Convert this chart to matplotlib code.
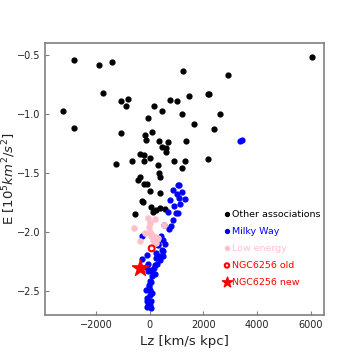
import numpy as np
from matplotlib import pyplot as plt

# Lz [km/s kpc], E [1e5 km^2/s^2]
other_lz = [-2815, -3240, -2815, -1895, -1395, -1733, -1085, -823, -885, -1085,
            -1272, -62, 162, 461, 748, 1035, 1247, 1459, 1222, 1646,
            2169, 2200, 2905, 2606, 2382, 2169, 6047, -162, -137, 100,
            337, 698, 1346, 474, 598, 611, -374, -212, 12, -673,
            -212, 898, 1321, 312, 1222, 337, 374, -374, -436, -200,
            -87, 25, 386, -274, -260, 62, 374, 224, 586, -536, 125]
other_e = [-0.542, -0.973, -1.119, -0.587, -0.562, -0.818, -0.891, -0.874, -0.931, -1.159,
           -1.426, -1.032, -0.928, -0.973, -0.877, -0.889, -0.632, -0.846, -1.001, -1.083,
           -0.832, -0.830, -0.669, -0.996, -1.125, -1.376, -0.520, -1.173, -1.221, -1.150,
           -1.229, -1.232, -1.224, -1.280, -1.283, -1.317, -1.334, -1.345, -1.373, -1.398,
           -1.393, -1.398, -1.393, -1.432, -1.454, -1.497, -1.530, -1.533, -1.556, -1.595,
           -1.590, -1.649, -1.668, -1.733, -1.745, -1.790, -1.798, -1.809, -1.803, -1.846, -1.832]

mw_lz = [3354, 3441, 1072, 1110, 886, 1010, 1222, 1110, 1321, 760,
         898, 1147, 686, 985, 1072, 873, 548, 735, 780, -274, 436,
         499, 324, 449, 224, 374, 499, -112, -274, 249, 399,
         -75, 199, 274, 0, 150, 87, 187, 12, -37, 0,
         -137, 12, -112, 0, -87, 312, 560, 510, -150, 100,
         -60, 60, -20, 100, -100, 40, -50, 50]
mw_e = [-1.229, -1.215, -1.598, -1.600, -1.640, -1.674, -1.663, -1.711, -1.722, -1.731,
        -1.778, -1.764, -1.826, -1.837, -1.840, -1.894, -1.936, -1.972, -1.950, -2.035, -2.029,
        -2.068, -2.099, -2.147, -2.175, -2.198, -2.203, -2.192, -2.226, -2.217, -2.231,
        -2.265, -2.274, -2.265, -2.316, -2.302, -2.367, -2.352, -2.409, -2.443, -2.485,
        -2.485, -2.533, -2.555, -2.614, -2.631, -2.110, -2.100, -2.160, -2.290, -2.330,
        -2.330, -2.420, -2.460, -2.510, -2.580, -2.580, -2.600, -2.640]

low_lz = [-62, 199, 0, -598, -25, 524, -162, 0, 62, 187,
          125, 249, -374, 187, 100, 300, 250, 150]
low_e = [-1.880, -1.885, -1.922, -1.961, -1.958, -1.939, -2.006, -2.000, -2.035, -2.040,
         -2.062, -2.062, -2.071, -2.085, -2.020, -2.050, -2.090, -2.075]

old_lz, old_e = [75], [-2.136]
new_lz, new_e = [-349], [-2.300]

fig = plt.figure(figsize=(3.6, 3.6), dpi=100)
ax = fig.add_axes([0.125, 0.125, 0.775, 0.755])

ax.scatter(other_lz, other_e, s=12, color="black", label="Other associations", zorder=3)
ax.scatter(mw_lz, mw_e, s=12, color="blue", label="Milky Way", zorder=3)
ax.scatter(low_lz, low_e, s=14, color="pink", label="Low energy", zorder=4)
ax.scatter(old_lz, old_e, s=18, facecolors="none", edgecolors="red", linewidths=1.5,
           label="NGC6256 old", zorder=5)
ax.scatter(new_lz, new_e, s=150, marker="*", color="red", label="NGC6256 new", zorder=5)

ax.set_xlim(-3900, 6500)
ax.set_ylim(-2.70, -0.40)
ax.set_xticks([-2000, 0, 2000, 4000, 6000])
ax.set_yticks([-2.5, -2.0, -1.5, -1.0, -0.5])
ax.set_xlabel("Lz [km/s kpc]", fontsize=9.5, color="#222222")
ax.set_ylabel(r"E [$10^5 km^2/s^2$]", fontsize=9.5, color="#222222")
ax.yaxis.set_label_coords(-0.098, 0.5)
ax.tick_params(direction="in", labelsize=7, color="grey", length=3, labelcolor="#222222")
for sp in ax.spines.values():
    sp.set_color("grey")
    sp.set_linewidth(1.2)

leg = ax.legend(loc="center right", bbox_to_anchor=(1.01, 0.245), frameon=False, fontsize=6.8,
                handletextpad=0.0, labelspacing=0.85, borderpad=0.2, handlelength=1.0,
                labelcolor=["black", "blue", "pink", "red", "red"])
for h, sz in zip(leg.legend_handles, [8, 8, 8, 10, 60]):
    h.set_sizes([sz])

fig.savefig("out.png", dpi=100)
